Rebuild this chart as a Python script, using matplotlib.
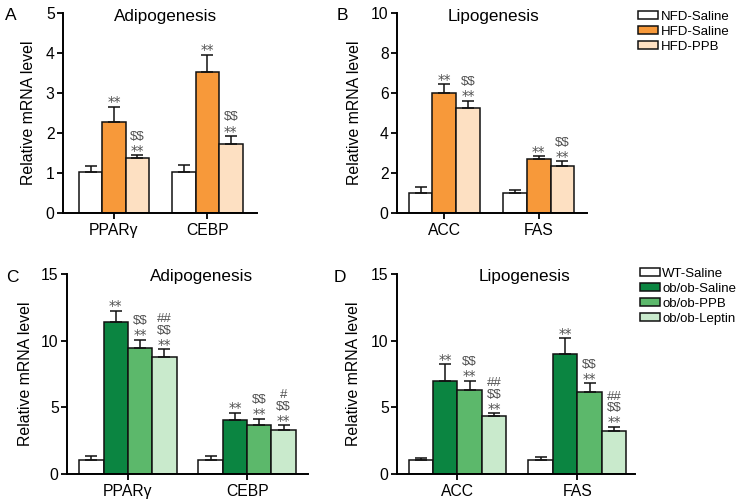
import matplotlib.pyplot as plt
from matplotlib.patches import Patch

plt.rcParams['font.family'] = ['Liberation Sans', 'DejaVu Sans']

# ── data ──────────────────────────────────────────────────────────────────────
# top panels: HFD model
hfd_groups = ['NFD-Saline', 'HFD-Saline', 'HFD-PPB']
hfd_colors = ['#ffffff', '#f7993a', '#fde0c2']

adipo_genes = ['PPARγ', 'CEBP']
adipo_hfd_mean = [[1.02, 1.02], [2.27, 3.52], [1.37, 1.72]]
adipo_hfd_err = [[0.15, 0.17], [0.38, 0.44], [0.07, 0.20]]
adipo_hfd_sig = [['', ''], ['**', '**'], ['$$\n**', '$$\n**']]

lipo_genes = ['ACC', 'FAS']
lipo_hfd_mean = [[1.02, 1.02], [6.02, 2.72], [5.23, 2.35]]
lipo_hfd_err = [[0.28, 0.11], [0.41, 0.11], [0.39, 0.23]]
lipo_hfd_sig = [['', ''], ['**', '**'], ['$$\n**', '$$\n**']]

# bottom panels: ob/ob model
ob_groups = ['WT-Saline', 'ob/ob-Saline', 'ob/ob-PPB', 'ob/ob-Leptin']
ob_colors = ['#ffffff', '#0b8541', '#5cb86b', '#c9eacc']

adipo_ob_mean = [[1.05, 1.05], [11.4, 4.05], [9.43, 3.68], [8.80, 3.30]]
adipo_ob_err = [[0.28, 0.28], [0.85, 0.55], [0.65, 0.47], [0.55, 0.35]]
adipo_ob_sig = [['', ''], ['**', '**'], ['$$\n**', '$$\n**'],
                ['##\n$$\n**', '#\n$$\n**']]

lipo_ob_mean = [[1.08, 1.05], [6.98, 9.00], [6.30, 6.15], [4.35, 3.25]]
lipo_ob_err = [[0.10, 0.20], [1.25, 1.18], [0.68, 0.65], [0.20, 0.28]]
lipo_ob_sig = [['', ''], ['**', '**'], ['$$\n**', '$$\n**'],
               ['##\n$$\n**', '##\n$$\n**']]

W, H = 744, 503
fig = plt.figure(figsize=(W / 100, H / 100), dpi=100)
SIG_COL = '#505050'


def px_axes(l, r, t, b):
    return fig.add_axes([l / W, 1 - b / H, (r - l) / W, (b - t) / H])


def sig_marks(ax, x, y, s):
    # stack the significance lines bottom-up above the error cap
    off = 3.3
    for k, line in enumerate(reversed(s.split('\n'))):
        if line == '**':
            ax.annotate(line, xy=(x, y), xytext=(0, off), fontsize=9.8,
                        textcoords='offset points', ha='center', va='center',
                        color=SIG_COL, family='DejaVu Sans')
            off += 10.2
        else:
            ax.annotate(line, xy=(x, y), xytext=(0, off), fontsize=9.5,
                        textcoords='offset points', ha='center', va='center',
                        color=SIG_COL, parse_math=False)
            off += 8.3


def panel(ax, genes, means, errs, sigs, colors, ymax, yticks, xlim,
          title, tx, letter, lx, ylab_x):
    n = len(means)
    w = 0.25 if n == 3 else 0.204
    for i in range(n):
        xs = [g + (i - (n - 1) / 2) * w for g in range(len(genes))]
        ax.bar(xs, means[i], w, color=colors[i], edgecolor='#111111',
               linewidth=1.1, zorder=2)
        ax.errorbar(xs, means[i], yerr=[[0] * len(xs), errs[i]], fmt='none',
                    ecolor='#111111', elinewidth=1.1, capsize=4,
                    capthick=1.1, zorder=3)
        for x, m, e, s in zip(xs, means[i], errs[i], sigs[i]):
            if s:
                sig_marks(ax, x, m + e, s)
    ax.set_xlim(*xlim)
    ax.set_ylim(0, ymax)
    ax.set_yticks(yticks)
    ax.set_xticks(range(len(genes)))
    ax.set_xticklabels(genes, fontsize=11.3)
    ax.tick_params(axis='y', labelsize=11.3, width=1.3, length=4, pad=2)
    ax.tick_params(axis='x', width=1.3, length=4, pad=3)
    for sp in ['top', 'right']:
        ax.spines[sp].set_visible(False)
    for sp in ['left', 'bottom']:
        ax.spines[sp].set_linewidth(1.4)
    ax.set_ylabel('Relative mRNA level', fontsize=11.4)
    ax.yaxis.set_label_coords(ylab_x, 0.5)
    ax.text(tx, 0.985, title, transform=ax.transAxes, ha='center',
            va='center', fontsize=12.3)
    ax.text(lx, 0.985, letter, transform=ax.transAxes, ha='center',
            va='center', fontsize=12.5)


axA = px_axes(63, 257, 13, 213)
panel(axA, adipo_genes, adipo_hfd_mean, adipo_hfd_err, adipo_hfd_sig,
      hfd_colors, 5, range(0, 6), (-0.545, 1.53), 'Adipogenesis', 0.526,
      'A', -0.27, -0.14)

axB = px_axes(397, 587, 13, 213)
panel(axB, lipo_genes, lipo_hfd_mean, lipo_hfd_err, lipo_hfd_sig,
      hfd_colors, 10, range(0, 11, 2), (-0.50, 1.51), 'Lipogenesis', 0.51,
      'B', -0.29, -0.185)

axC = px_axes(67, 308, 274, 474)
panel(axC, adipo_genes, adipo_ob_mean, adipo_ob_err, adipo_ob_sig,
      ob_colors, 15, range(0, 16, 5), (-0.51, 1.51), 'Adipogenesis', 0.558,
      'C', -0.228, -0.141)

axD = px_axes(397, 635, 274, 474)
panel(axD, lipo_genes, lipo_ob_mean, lipo_ob_err, lipo_ob_sig,
      ob_colors, 15, range(0, 16, 5), (-0.504, 1.48), 'Lipogenesis', 0.536,
      'D', -0.24, -0.151)

# legends
for groups, colors, (lx, ly) in [(hfd_groups, hfd_colors, (638, 11)),
                                 (ob_groups, ob_colors, (640, 268))]:
    handles = [Patch(facecolor=c, edgecolor='#111111', linewidth=1.1)
               for c in colors]
    fig.legend(handles, groups, loc='upper left',
               bbox_to_anchor=(lx / W, 1 - ly / H), frameon=False,
               fontsize=9.5, handlelength=1.5, handleheight=0.55,
               handletextpad=0.2, labelspacing=0.22, borderpad=0,
               borderaxespad=0)

plt.savefig('out.png', dpi=100)
plt.close()
